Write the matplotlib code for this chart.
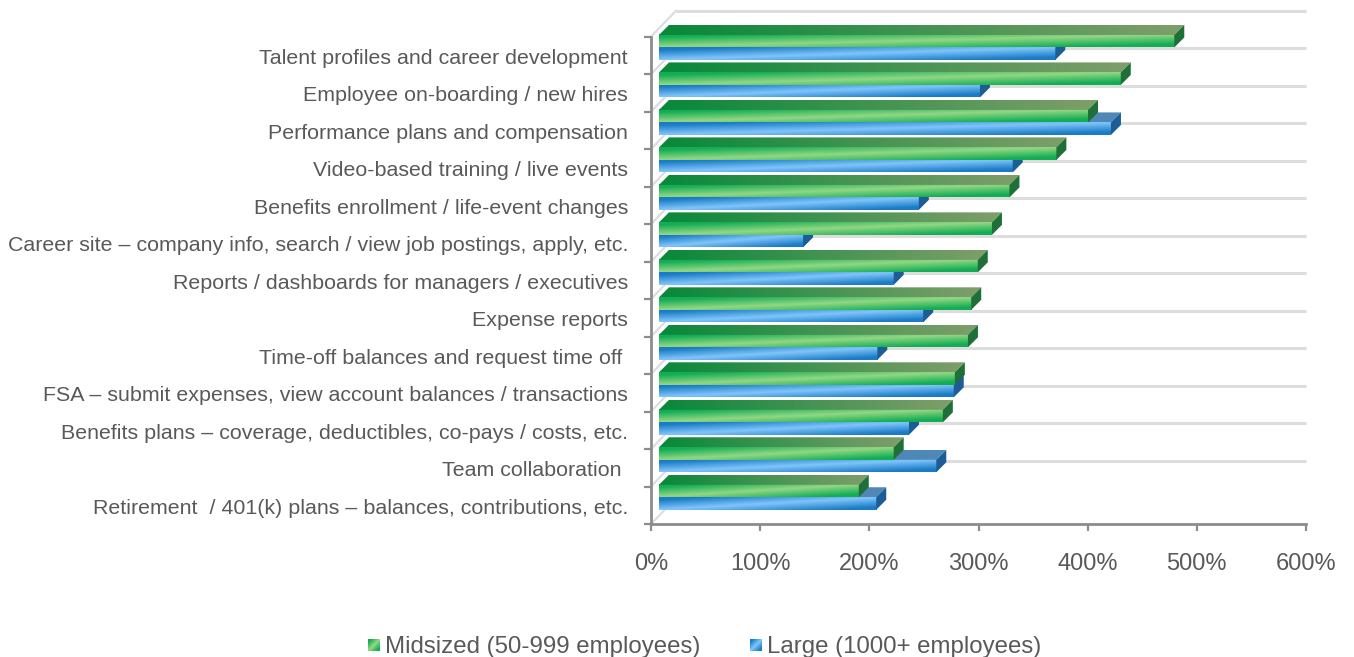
import numpy as np
import matplotlib
matplotlib.use('Agg')
import matplotlib.pyplot as plt
from matplotlib.colors import to_rgb
from matplotlib.patches import Polygon

categories = [
    'Talent profiles and career development',
    'Employee on-boarding / new hires',
    'Performance plans and compensation',
    'Video-based training / live events',
    'Benefits enrollment / life-event changes',
    'Career site – company info, search / view job postings, apply, etc.',
    'Reports / dashboards for managers / executives',
    'Expense reports',
    'Time-off balances and request time off ',
    'FSA – submit expenses, view account balances / transactions',
    'Benefits plans – coverage, deductibles, co-pays / costs, etc.',
    'Team collaboration ',
    'Retirement  / 401(k) plans – balances, contributions, etc.',
]
midsized = [472, 423, 393, 364, 321, 305, 292, 286, 283, 271, 260, 215, 183]
large = [363, 294, 414, 324, 238, 132, 215, 242, 200, 270, 229, 254, 199]
xticks = [0, 100, 200, 300, 400, 500, 600]

W, H = 1354, 657
X0, X1 = 651, 1306   # front plane in pixels
Y_TOP, Y_BOT = 36.7, 524

plt.rcParams['font.family'] = ['Liberation Sans', 'DejaVu Sans']
TEXT = '#595959'
AXIS = '#8c8c8c'
GRID = '#dddddd'

fig = plt.figure(figsize=(W / 100, H / 100), dpi=100)
ax = fig.add_axes([X0 / W, 1 - Y_BOT / H, (X1 - X0) / W, (Y_BOT - Y_TOP) / H])
n = len(categories)
ax.set_xlim(0, 600)
ax.set_ylim(n, 0)
ax.set_autoscale_on(False)

px = 600 / (X1 - X0)            # data units of one pixel, x
py = n / (Y_BOT - Y_TOP)        # same for y


def gradient(dark, light, nx=80, ny=16):
    # diagonal highlight: low at the left end, high at the right end
    dark, light = np.array(to_rgb(dark)), np.array(to_rgb(light))
    u, v = np.meshgrid(np.linspace(0, 1, nx), np.linspace(0, 1, ny))
    t = np.clip(np.abs(v - (1 - u)) / 0.8, 0, 1)[..., None]
    return light * (1 - t) + dark * t


def top_colors(left, right, nx=80):
    left, right = np.array(to_rgb(left)), np.array(to_rgb(right))
    u = np.linspace(0, 1, nx)[None, :, None]
    return left * (1 - u) + right * u


def draw_bar(value, y0, y1, cols):
    # y0/y1 are front-face edges, dx/dy the bar depth
    x0 = 8 * px
    dx, dy = 10 * px, 10 * py
    x1 = x0 + value
    front = ax.imshow(gradient(cols['dark'], cols['light']), extent=(x0, x1, y1, y0),
                      aspect='auto', zorder=3, interpolation='bilinear')
    front.set_clip_on(False)
    top_poly = Polygon([(x0, y0), (x0 + dx, y0 - dy), (x1 + dx, y0 - dy), (x1, y0)],
                       closed=True, transform=ax.transData, fc='none', ec='none')
    ax.add_patch(top_poly)
    top_poly.set_clip_on(False)
    top = ax.imshow(top_colors(cols['top_l'], cols['top_r']), extent=(x0, x1 + dx, y0, y0 - dy),
                    aspect='auto', zorder=3, interpolation='bilinear')
    top.set_clip_path(top_poly)
    top.set_clip_box(fig.bbox)      # first row sticks out above the axes
    ax.add_patch(Polygon([(x1, y0), (x1 + dx, y0 - dy), (x1 + dx, y1 - dy), (x1, y1)],
                         closed=True, fc=cols['side'], ec='none', zorder=3, clip_on=False))


GREEN = dict(dark='#12ad55', light='#93d783', top_l='#08883a', top_r='#7f9e6a', side='#1f7038')
BLUE = dict(dark='#1a7cc6', light='#80c5fb', top_l='#4f87b6', top_r='#4f87b6', side='#1c5d96')

# walls and gridlines sit behind the bars
wdx, wdy = 25 * px, 26 * py
for i in range(n + 1):
    if i < n:
        ax.plot([wdx, 600], [i - wdy, i - wdy], color=GRID, lw=2.2, clip_on=False, zorder=1,
                solid_capstyle='butt')
    ax.plot([0, wdx], [i, i - wdy], color=GRID, lw=1.6, clip_on=False, zorder=1)

for i in range(n):
    yc = i + 0.5 - 8 * py
    h = 12.5 * py
    draw_bar(large[i], yc, yc + h, BLUE)
    draw_bar(midsized[i], yc - h, yc, GREEN)

for s in ['top', 'right']:
    ax.spines[s].set_visible(False)
for s in ['left', 'bottom']:
    ax.spines[s].set_color(AXIS)
    ax.spines[s].set_linewidth(2)
    ax.spines[s].set_zorder(4)

ax.set_xticks(xticks)
ax.set_xticklabels([f'{v}%' for v in xticks], fontsize=17, color=TEXT)
ax.set_yticks(np.arange(n + 1))
ax.set_yticklabels([])
ax.tick_params(axis='both', color=AXIS, width=1.6, length=5)
ax.tick_params(axis='x', pad=16)

for i, label in enumerate(categories):
    ax.text(-23 * px, i + 0.5 + 2.8 * py, label, ha='right', va='center', fontsize=15.4, color=TEXT,
            clip_on=False)


# legend
def legend_item(x, text, cols):
    sw = fig.add_axes([x / W, 1 - 651 / H, 12 / W, 12 / H])
    sw.imshow(gradient(cols['dark'], cols['light'], 12, 12), aspect='auto', interpolation='bilinear')
    sw.axis('off')
    fig.text((x + 17) / W, 1 - 647 / H, text, fontsize=17.3, color=TEXT, ha='left', va='center')


legend_item(368, 'Midsized (50-999 employees)', GREEN)
legend_item(750, 'Large (1000+ employees)', BLUE)

fig.savefig('out.png', dpi=100)
